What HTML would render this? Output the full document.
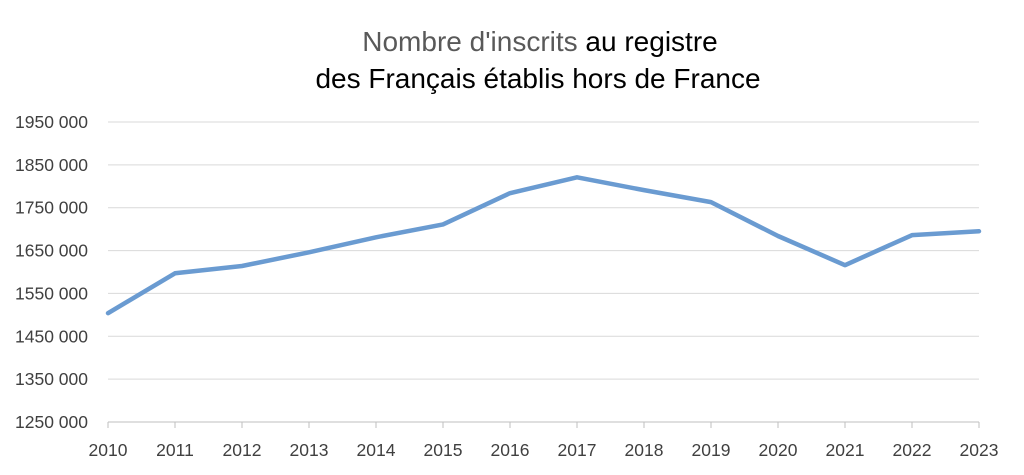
<!DOCTYPE html>
<html><head><meta charset="utf-8"><style>
body{margin:0;background:#fff;width:1024px;height:470px;overflow:hidden;font-family:"Liberation Sans",sans-serif}
</style></head><body>
<svg id="chart" width="1024" height="470" xmlns="http://www.w3.org/2000/svg">
<text x="540" y="51" text-anchor="middle" font-size="28" fill="#000"><tspan fill="#595959">Nombre d'inscrits</tspan> au registre</text>
<text x="538" y="88" text-anchor="middle" font-size="28" fill="#000">des Français établis hors de France</text>
<g id="grid"></g>
<g id="yt"></g>
<g id="xt"></g>
<polyline id="line" fill="none" stroke="#6a9bd1" stroke-width="4.5" stroke-linejoin="round" stroke-linecap="round"/>
</svg>
<script>
const years=[2010,2011,2012,2013,2014,2015,2016,2017,2018,2019,2020,2021,2022,2023];
const values=[1504000,1597000,1614000,1646000,1681000,1711000,1784000,1821000,1791000,1763000,1684000,1616000,1686000,1695000];
const yTicks=[1250000,1350000,1450000,1550000,1650000,1750000,1850000,1950000];
const yTickLabels=["1250 000","1350 000","1450 000","1550 000","1650 000","1750 000","1850 000","1950 000"];
const NS="http://www.w3.org/2000/svg";
const x0=108,x1=979,yMin=1250000,yMax=1950000,py0=422,py1=122;
const xs=i=>x0+(x1-x0)*i/(years.length-1);
const ys=v=>py0+(py1-py0)*(v-yMin)/(yMax-yMin);
const grid=document.getElementById('grid'),yt=document.getElementById('yt'),xt=document.getElementById('xt');
yTicks.forEach((t,i)=>{
 const l=document.createElementNS(NS,'line');
 
 
 l.setAttribute('x1',x0);l.setAttribute('x2',x1);l.setAttribute('y1',ys(t));l.setAttribute('y2',ys(t));
 l.setAttribute('stroke',i===0?'#bfbfbf':'#d9d9d9');l.setAttribute('stroke-width','1');
 grid.appendChild(l);
 const tx=document.createElementNS(NS,'text');
 
 
 tx.setAttribute('x',88);tx.setAttribute('y',ys(t)+6);tx.setAttribute('text-anchor','end');
 tx.setAttribute('font-size','17.5');tx.setAttribute('fill','#404040');tx.textContent=yTickLabels[i];
 yt.appendChild(tx);
});
years.forEach((y,i)=>{
 const tk=document.createElementNS(NS,'line');
 
 
 tk.setAttribute('x1',xs(i));tk.setAttribute('x2',xs(i));tk.setAttribute('y1',py0);tk.setAttribute('y2',py0+6);
 tk.setAttribute('stroke','#bfbfbf');
 xt.appendChild(tk);
 const tx=document.createElementNS(NS,'text');
 
 
 tx.setAttribute('x',xs(i));tx.setAttribute('y',456);tx.setAttribute('text-anchor','middle');
 tx.setAttribute('font-size','17.5');tx.setAttribute('fill','#404040');tx.textContent=y;
 xt.appendChild(tx);
});
document.getElementById('line').setAttribute('points',values.map((v,i)=>xs(i)+','+ys(v)).join(' '));
</script>
</body></html>
